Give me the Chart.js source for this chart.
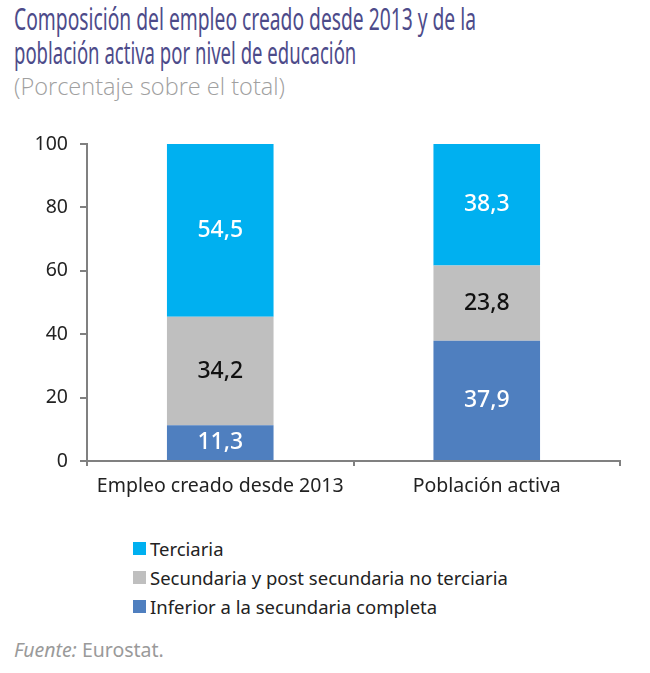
<!DOCTYPE html>
<html>
<head>
<meta charset="utf-8">
<script src="https://cdn.jsdelivr.net/npm/chart.js@4.4.1/dist/chart.umd.min.js"></script>
<style>
  body { margin: 0; background: #fff; width: 650px; height: 673px; position: relative; overflow: hidden; font-family: "Noto Sans", sans-serif; }
  .title { position: absolute; left: 14px; top: 1px; font-family: "Noto Sans", sans-serif; font-size: 31px; line-height: 34px; color: #4d4b8a; }
  .title span { display: block; white-space: nowrap; transform-origin: 0 0; }
  .subtitle { position: absolute; left: 14px; top: 70px; font-size: 23px; color: #a0a0a0; white-space: nowrap; transform-origin: 0 0; font-family: "Open Sans", sans-serif; font-weight: 300; }
  .chart-box { position: absolute; left: 0; top: 0; width: 650px; height: 520px; }
  .legend { position: absolute; left: 133px; top: 534px; font-size: 18.5px; color: #222; }
  .legend div { height: 29px; line-height: 24px; display: flex; align-items: center; }
  .legend span.sw { display: inline-block; width: 13px; height: 13px; margin-right: 4px; }
  .footer { position: absolute; left: 14px; top: 636px; font-size: 19.5px; color: #9a9a9a; }
</style>
</head>
<body>
<div class="title"><span id="t1">Composición del empleo creado desde 2013 y de la</span><span id="t2">población activa por nivel de educación</span></div>
<div class="subtitle" id="sub">(Porcentaje sobre el total)</div>
<div class="chart-box"><canvas id="chart" width="650" height="520"></canvas></div>
<div class="legend" id="legend"></div>
<div class="footer"><i>Fuente:</i> Eurostat.</div>
<script>
const categories = ["Empleo creado desde 2013", "Población activa"];
const inferior = [11.3, 37.9];
const secundaria = [34.2, 23.8];
const terciaria = [54.5, 38.3];
const yTicks = [0, 20, 40, 60, 80, 100];

const datasets = [
  { label: "Inferior a la secundaria completa", data: inferior, backgroundColor: "#4f7fbf", labelColor: "#fff" },
  { label: "Secundaria y post secundaria no terciaria", data: secundaria, backgroundColor: "#bfbfbf", labelColor: "#111" },
  { label: "Terciaria", data: terciaria, backgroundColor: "#00b0f0", labelColor: "#fff" },
];

// squeeze the title lines to the narrow width of the original condensed face
function fitWidth(el, target) {
  const w = el.getBoundingClientRect().width;
  el.style.transform = "scaleX(" + (target / w) + ")";
}
fitWidth(document.getElementById("t1"), 462);
fitWidth(document.getElementById("t2"), 445);
fitWidth(document.getElementById("sub"), 271);

const valueLabels = {
  id: "valueLabels",
  afterDatasetsDraw(chart) {
    const ctx = chart.ctx;
    ctx.save();
    ctx.font = "500 23px 'Noto Sans'";
    ctx.textAlign = "center";
    ctx.textBaseline = "middle";
    chart.data.datasets.forEach((ds, i) => {
      chart.getDatasetMeta(i).data.forEach((bar, j) => {
        const p = bar.getCenterPoint();
        ctx.fillStyle = ds.labelColor;
        ctx.fillText(ds.data[j].toFixed(1).replace(".", ","), p.x, p.y);
      });
    });
    ctx.restore();
  }
};

const axisColor = "#808080";
const chart = new Chart(document.getElementById("chart").getContext("2d"), {
  type: "bar",
  data: {
    labels: categories,
    datasets: datasets.map(d => ({ ...d, barPercentage: 0.4, categoryPercentage: 1, borderWidth: 0 }))
  },
  options: {
    responsive: false,
    animation: false,
    layout: { padding: { top: 144, right: 30, bottom: 19, left: 0 } },
    plugins: { legend: { display: false }, tooltip: { enabled: false } },
    scales: {
      x: {
        stacked: true,
        afterFit: s => { s.height = 40; },
        grid: { drawOnChartArea: false, drawTicks: true, tickLength: 5, color: axisColor, lineWidth: 2, offset: true },
        border: { color: axisColor, width: 2 },
        ticks: { color: "#222", font: { family: "Noto Sans", size: 19.5 }, padding: 9 }
      },
      y: {
        stacked: true,
        min: 0,
        max: 100,
        afterFit: s => { s.width = 87; },
        afterBuildTicks: s => { s.ticks = yTicks.map(v => ({ value: v })); },
        grid: { drawOnChartArea: false, drawTicks: true, tickLength: 7, color: axisColor, lineWidth: 2 },
        border: { color: axisColor, width: 2 },
        ticks: { color: "#222", font: { family: "Noto Sans", size: 19.5 }, padding: 12 }
      }
    }
  },
  plugins: [valueLabels]
});

// legend, listed top to bottom as in the stack
const legend = document.getElementById("legend");
datasets.slice().reverse().forEach(d => {
  const row = document.createElement("div");
  row.innerHTML = '<span class="sw" style="background:' + d.backgroundColor + '"></span>' + d.label;
  legend.appendChild(row);
});
</script>
</body>
</html>
